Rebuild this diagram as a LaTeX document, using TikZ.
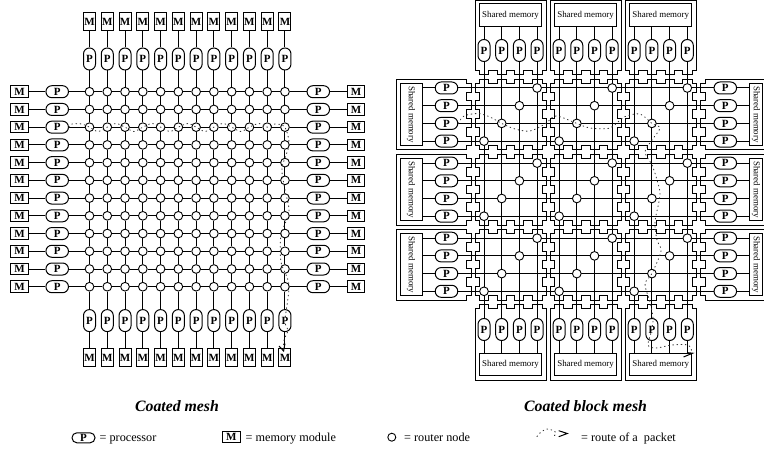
\documentclass[tikz,border=0pt]{standalone}
\usepackage{fontspec}
\usepackage{graphicx}
\setmainfont{Liberation Serif}
\usetikzlibrary{backgrounds}
\tikzset{
  wire/.style={line width=1pt,black},
  wall/.style={line width=1pt,black,line join=miter},
  pnode/.style={draw,line width=1pt,fill=white,rectangle,inner sep=0pt,font=\fontsize{11}{12}\selectfont\bfseries},
  phor/.style={pnode,rounded corners=5.9pt,minimum width=22.5pt,minimum height=12pt},
  pver/.style={pnode,rounded corners=5.9pt,minimum width=12pt,minimum height=22pt},
  mhor/.style={pnode,minimum width=17.5pt,minimum height=11.5pt},
  mver/.style={pnode,minimum width=12pt,minimum height=18pt},
  router/.style={draw,line width=0.9pt,fill=white,circle,inner sep=0pt,minimum size=8.7pt},
  shbox/.style={draw,line width=1pt,fill=white,rectangle,inner sep=0pt,font=\fontsize{8.9}{10}\selectfont},
  route/.style={line width=0.85pt,black!80,dash pattern=on 0.8pt off 3.4pt,line cap=round},
  tip/.style={line width=1pt,black},
  caption/.style={inner sep=0pt,font=\fontsize{15.8}{18}\selectfont\bfseries\itshape},
  legend/.style={inner sep=0pt,anchor=base west,font=\fontsize{12.2}{14}\selectfont}
}
% block outline, local origin = crossing of top and left channels
\newcommand{\blockwall}{(6.4,6.4) -- (6.4,2.2) -- (15.2,2.2) -- (15.2,6.4) -- (23.9,6.4) -- (23.9,2.2) -- (32.9,2.2) -- (32.9,6.4) -- (41.6,6.4) -- (41.6,2.2) -- (50.6,2.2) -- (50.6,6.4) -- (59.3,6.4) -- (59.3,2.2) -- (68.7,2.2) -- (68.7,6.4)
 -- (72.9,6.4) -- (72.9,15.2) -- (68.7,15.2) -- (68.7,23.9) -- (72.9,23.9) -- (72.9,32.9) -- (68.7,32.9) -- (68.7,41.6) -- (72.9,41.6) -- (72.9,50.6) -- (68.7,50.6) -- (68.7,59.3) -- (72.9,59.3) -- (72.9,68.7) -- (68.7,68.7)
 -- (68.7,72.9) -- (59.3,72.9) -- (59.3,68.7) -- (50.6,68.7) -- (50.6,72.9) -- (41.6,72.9) -- (41.6,68.7) -- (32.9,68.7) -- (32.9,72.9) -- (23.9,72.9) -- (23.9,68.7) -- (15.2,68.7) -- (15.2,72.9) -- (6.4,72.9) -- (6.4,68.7)
 -- (2.2,68.7) -- (2.2,59.3) -- (6.4,59.3) -- (6.4,50.6) -- (2.2,50.6) -- (2.2,41.6) -- (6.4,41.6) -- (6.4,32.9) -- (2.2,32.9) -- (2.2,23.9) -- (6.4,23.9) -- (6.4,15.2) -- (2.2,15.2) -- (2.2,6.4) -- cycle}
% enclosure edge along x (s = -1 above, +1 below channel)
\newcommand{\hedge}[1]{(2.2,#1*6.4) -- (6.4,#1*6.4) -- (6.4,#1*2.2) -- (15.2,#1*2.2) -- (15.2,#1*6.4) -- (23.9,#1*6.4) -- (23.9,#1*2.2) -- (32.9,#1*2.2) -- (32.9,#1*6.4) -- (41.6,#1*6.4) -- (41.6,#1*2.2) -- (50.6,#1*2.2) -- (50.6,#1*6.4) -- (59.3,#1*6.4) -- (59.3,#1*2.2) -- (68.7,#1*2.2) -- (68.7,#1*6.4) -- (72.9,#1*6.4)}
\newcommand{\vedge}[1]{(#1*6.4,2.2) -- (#1*6.4,6.4) -- (#1*2.2,6.4) -- (#1*2.2,15.2) -- (#1*6.4,15.2) -- (#1*6.4,23.9) -- (#1*2.2,23.9) -- (#1*2.2,32.9) -- (#1*6.4,32.9) -- (#1*6.4,41.6) -- (#1*2.2,41.6) -- (#1*2.2,50.6) -- (#1*6.4,50.6) -- (#1*6.4,59.3) -- (#1*2.2,59.3) -- (#1*2.2,68.7) -- (#1*6.4,68.7) -- (#1*6.4,72.9)}
\begin{document}
\begin{tikzpicture}[x=1pt,y=-1pt]
\useasboundingbox (0,0) rectangle (764,452);
\begin{scope}[on background layer]
  \fill[white] (0,0) rectangle (764,452);
\end{scope}

%%%%% Coated mesh
\foreach \i in {1,...,12}{
  \pgfmathsetmacro{\gx}{89.5+17.77*(\i-1)}
  \pgfmathsetmacro{\gy}{91.7+17.73*(\i-1)}
  \node[mver] (mt\i) at (\gx,21.4) {M};
  \node[pver] (pt\i) at (\gx,59) {P};
  \node[pver] (pb\i) at (\gx,320.6) {P};
  \node[mver] (mb\i) at (\gx,357.7) {M};
  \node[mhor] (ml\i) at (19.5,\gy) {M};
  \node[phor] (pl\i) at (57.2,\gy) {P};
  \node[phor] (pr\i) at (318.3,\gy) {P};
  \node[mhor] (mr\i) at (356,\gy) {M};
  \foreach \j in {1,...,12}{
    \pgfmathsetmacro{\hx}{89.5+17.77*(\j-1)}
    \node[router] (r-\i-\j) at (\hx,\gy) {};
  }
}
\begin{scope}[on background layer]
\foreach \i in {1,...,12}{
  \draw[wire] (mt\i) -- (pt\i);
  \draw[wire] (pt\i) -- (r-1-\i);
  \draw[wire] (r-12-\i) -- (pb\i);
  \draw[wire] (pb\i) -- (mb\i);
  \draw[wire] (ml\i) -- (pl\i);
  \draw[wire] (pl\i) -- (r-\i-1);
  \draw[wire] (r-\i-12) -- (pr\i);
  \draw[wire] (pr\i) -- (mr\i);
  \foreach \j [evaluate=\j as \n using int(\j+1)] in {1,...,11}{
    \draw[wire] (r-\i-\j) -- (r-\i-\n);
    \draw[wire] (r-\j-\i) -- (r-\n-\i);
  }
}
\end{scope}
% route in the coated mesh
\draw[route] plot[smooth] coordinates {(pl3.east) (72,124) (82,124) (r-3-1.center) (98,131.5) (r-3-2.center) (116,123.5) (r-3-3.center) (134,131.5) (r-3-4.center) (152,123.5) (r-3-5.center) (170,131.5) (r-3-6.center) (188,123.5) (r-3-7.center) (205,131.5) (r-3-8.center) (223,123.5) (r-3-9.center) (241,131.5) (r-3-10.center) (259,123.5) (r-3-11.center) (275,124) (r-3-12.center) (289,145) (282,168) (285,190) (289,212) (281,235) (281,262) (289,285) (pb12.center) (288,330) (284,340) (283.5,351)};
\draw[tip] (279,346) -- (283.6,351) -- (285,343.5);

%%%%% Coated block mesh: walls
\foreach \a in {0,1,2}{
  \foreach \c in {0,1,2}{
    \draw[wall,shift={(473.3+75.1*\a,77+75.1*\c)}] \blockwall;
  }
  \draw[wall,shift={(473.3+75.1*\a,77)}] (2.2,-76.6) -- \hedge{-1} -- (72.9,-76.6) -- cycle;
  \draw[wall,shift={(473.3+75.1*\a,302.3)}] (2.2,77.7) -- \hedge{1} -- (72.9,77.7) -- cycle;
  \draw[wall,shift={(473.3,77+75.1*\a)}] (-77.3,2.2) -- \vedge{-1} -- (-77.3,72.9) -- cycle;
  \draw[wall,shift={(698.6,77+75.1*\a)}] (72,2.2) -- \vedge{1} -- (72,72.9) -- cycle;
}
%%%%% block mesh: nodes
\foreach \a in {0,1,2}{
  \pgfmathsetmacro{\bx}{473.3+75.1*\a}
  \pgfmathsetmacro{\by}{77+75.1*\a}
  \node[shbox,minimum width=62.4pt,minimum height=22.4pt] (st\a) at (\bx+37.2,15) {Shared memory};
  \node[shbox,minimum width=62.4pt,minimum height=22.4pt] (sb\a) at (\bx+37.2,364.4) {Shared memory};
  \node[shbox,minimum width=22pt,minimum height=62.4pt] (sl\a) at (411,\by+37.5) {\rotatebox{-90}{Shared memory}};
  \node[shbox,minimum width=13.4pt,minimum height=62.4pt] (sr\a) at (756,\by+37.5) {\rotatebox{-90}{Shared memory}};
  \foreach \k in {0,1,2,3}{
    \pgfmathsetmacro{\cx}{\bx+10.7+17.7*\k}
    \pgfmathsetmacro{\cy}{\by+11+17.7*\k}
    \node[pver] (pvt\a\k) at (\cx,50.5) {P};
    \node[pver] (pvb\a\k) at (\cx,329.5) {P};
    \node[phor] (phl\a\k) at (446.5,\cy) {P};
    \node[phor] (phr\a\k) at (725.3,\cy) {P};
  }
  \foreach \c in {0,1,2}{
    \pgfmathsetmacro{\ry}{77+75.1*\c}
    \foreach \k [evaluate=\k as \m using int(3-\k)] in {0,1,2,3}{
      \node[router] (rr\a\c\k) at (\bx+10.7+17.7*\m,\ry+11+17.7*\k) {};
    }
  }
}
\begin{scope}[on background layer]
\foreach \a in {0,1,2}{
  \foreach \k in {0,1,2,3}{
    \draw[wire] (pvt\a\k.north |- st\a.south) -- (pvt\a\k.north);
    \draw[wire] (pvt\a\k.south) -- (pvb\a\k.north);
    \draw[wire] (pvb\a\k.south) -- (pvb\a\k.south |- sb\a.north);
    \draw[wire] (sl\a.east |- phl\a\k.west) -- (phl\a\k.west);
    \draw[wire] (phl\a\k.east) -- (phr\a\k.west);
    \draw[wire] (phr\a\k.east) -- (sr\a.west |- phr\a\k.east);
  }
}
\end{scope}
% route in the block mesh
\draw[route] plot[smooth] coordinates {(phl02.east) (464,116) (478,113.5) (490,117) (rr002.center) (515,129) (530,131) (545,124) (556,116) (rr102.center) (590,128) (610,128) (624,117) (640,114) (rr202.center) (660,128) (652,140) (645,152) (652,165) (657,180) (660,195) (655,222) (657,240) (661,251) (rr222.center) (645,284) (650,302) (653,318) (pvb21.center) (648,345) (656,348) (672,345) (688,345) (692,352)};
\draw[tip] (683.5,357) -- (692.6,353.2) -- (687,352.6);

%%%%% captions and legend
\node[caption] (cap1) at (177,406) {Coated mesh};
\node[caption] (cap2) at (585.5,406) {Coated block mesh};
\node[pnode,rounded corners=4.9pt,minimum width=23pt,minimum height=10pt] (lgp) at (83.5,437.8) {P};
\node[legend] (lgpt) at (99.5,441) {= processor};
\node[pnode,minimum width=18.6pt,minimum height=11pt] (lgm) at (231.3,437.3) {M};
\node[legend] (lgmt) at (245.5,441) {= memory module};
\node[router,minimum size=8pt] (lgr) at (391.8,437.2) {};
\node[legend] (lgrt) at (404,441) {= router node};
\coordinate (lg1) at (537,436.5);
\coordinate (lg2) at (556,433);
\draw[route] plot[smooth] coordinates {(lg1) (541,432) (547,429) (553,430.5) (lg2) (553,437.5)};
\draw[tip] (558.7,430.7) -- (567.3,433.5) -- (558.7,436.7);
\node[legend] (lgct) at (581,441) {= route of a\ \ packet};
\end{tikzpicture}
\end{document}
